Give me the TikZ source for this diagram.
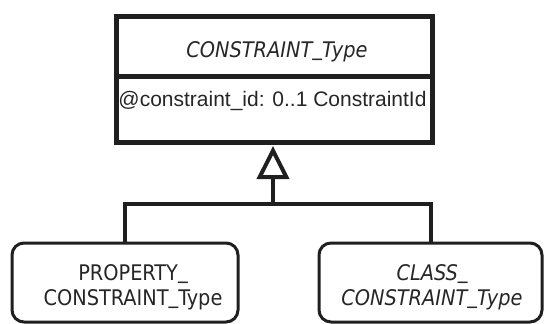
\documentclass[tikz,border=0pt]{standalone}
\usepackage{fontspec}
\usetikzlibrary{arrows.meta}
\newfontfamily\tahfont{DejaVu Sans Condensed}
\newfontfamily\arifont{Liberation Sans}
\newcommand{\myus}{\raisebox{2pt}{\_}}
\begin{document}
\begin{tikzpicture}[x=1pt,y=-1pt,
  classbox/.style={draw=black!88,line width=5pt,minimum width=316pt,inner sep=0pt},
  subbox/.style={draw=black!88,line width=3pt,rounded corners=12pt,minimum height=79pt,inner sep=0pt},
  conn/.style={draw=black!88,line width=4pt},
  lbl/.style={font=\tahfont\fontsize{21.5pt}{25pt}\selectfont,align=center,text=black!85},
  attr/.style={font=\arifont\fontsize{21pt}{25pt}\selectfont,text=black!85}]
\useasboundingbox (0,0) rectangle (544,324);
% top class
\node[classbox,minimum height=60pt] (title) at (274,46) {};
\node[classbox,minimum height=66pt] (attrs) at (274,109) {};
\node[lbl,anchor=base] (titletxt) at (277,57) {\itshape CONSTRAINT\myus Type};
\node[attr,anchor=base] (attrtxt) at (272.5,106) {@constraint\_id: 0..1 ConstraintId};
% subclasses
\node[subbox,minimum width=226pt] (pc) at (125,282.5) {};
\node[subbox,minimum width=223pt] (cc) at (430.5,282.5) {};
\node[lbl,anchor=base] (pctxt) at (133,305) {PROPERTY\myus\\CONSTRAINT\myus Type};
\node[lbl,anchor=base] (cctxt) at (432,305) {\itshape CLASS\myus\\\itshape CONSTRAINT\myus Type};
% generalization
\coordinate (j) at (273,204);
\draw[conn] (pc.north) |- (j) -| (cc.north);
\draw[conn,-{Triangle[open,length=33pt,width=32pt,line width=4pt]}] (j) -- (273,146);
\end{tikzpicture}
\end{document}
